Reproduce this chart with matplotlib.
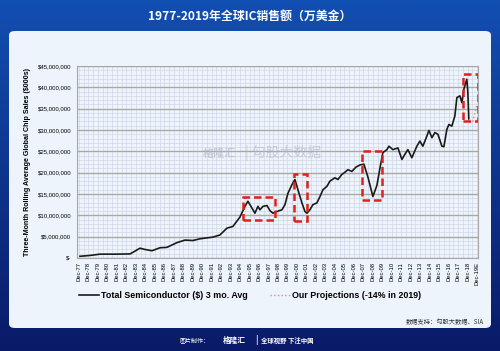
import numpy as np
import matplotlib.pyplot as plt
from matplotlib.patches import FancyBboxPatch, Rectangle
from matplotlib.ticker import MultipleLocator, FuncFormatter

plt.rcParams['font.family'] = ['Liberation Sans', 'Noto Sans CJK SC', 'DejaVu Sans']

# three-month rolling average sales, $000s
years = [1978.02, 1979.08, 1980.13, 1981.71, 1983.30, 1983.82, 1984.35, 1984.88,
         1985.62, 1986.46, 1987.20, 1988.25, 1989.10, 1989.94, 1990.68, 1992.05,
         1992.79, 1993.53, 1994.16, 1994.90, 1995.43, 1995.74, 1996.17, 1996.48,
         1996.80, 1997.01, 1997.33, 1997.75, 1998.07, 1998.38, 1998.80, 1999.33,
         1999.65, 1999.97, 2000.39, 2000.70, 2001.02, 2001.44, 2001.76, 2001.97,
         2002.28, 2002.60, 2003.02, 2003.34, 2003.66, 2004.08, 2004.39, 2004.92,
         2005.24, 2005.66, 2005.98, 2006.29, 2006.71, 2007.14, 2007.56, 2007.98,
         2008.40, 2008.93, 2009.35, 2009.67, 2009.98, 2010.41, 2010.62, 2011.04,
         2011.57, 2011.99, 2012.30, 2012.62, 2013.04, 2013.57, 2013.89, 2014.20,
         2014.63, 2014.84, 2015.16, 2015.47, 2015.79, 2016.21, 2016.42, 2016.74,
         2016.95, 2017.26, 2017.58, 2017.79, 2018.11, 2018.32, 2018.53, 2018.84,
         2018.95, 2019.05]
sales = [0.4, 0.6, 0.9, 0.9, 0.95, 1.6, 2.3, 2.0,
         1.7, 2.4, 2.5, 3.6, 4.2, 4.1, 4.5, 4.9,
         5.4, 7.0, 7.4, 9.6, 12.1, 13.3, 11.7, 10.5,
         12.1, 11.3, 12.1, 12.3, 11.1, 10.5, 10.9, 11.3,
         12.5, 15.2, 17.2, 18.4, 16.0, 12.9, 10.9, 10.5,
         11.3, 12.5, 12.9, 14.4, 16.0, 16.8, 18.0, 18.8,
         18.4, 19.6, 20.1, 20.7, 20.3, 21.3, 21.8, 22.0,
         19.0, 14.4, 17.0, 21.0, 24.7, 25.4, 26.2, 25.4,
         25.8, 23.1, 24.3, 25.4, 23.5, 26.2, 27.4, 26.2,
         28.6, 29.9, 28.2, 29.4, 29.0, 26.2, 26.1, 30.2,
         31.3, 30.9, 33.3, 37.6, 38.0, 36.4, 39.6, 41.9,
         38.8, 32.5]
sales = [v * 1e6 for v in sales]

proj_years = [2019.05, 2019.48, 2019.90]
proj_sales = [32.5e6, 32.1e6, 36.0e6]

# highlighted periods: (x0, x1, y0, y1)
boxes = [(1995.22, 1998.59, 9.0e6, 14.4e6),
         (2000.60, 2001.97, 8.7e6, 19.8e6),
         (2007.77, 2009.88, 13.7e6, 25.0e6),
         (2018.42, 2019.98, 32.0e6, 43.1e6)]

tick_years = list(range(1977, 2019))
tick_labels = ['Dec-%02d' % (y % 100) for y in tick_years] + ['Dec-19E']
tick_pos = [y + 11 / 12 for y in tick_years] + [2019 + 11 / 12]

fig = plt.figure(figsize=(5.0, 3.51), dpi=100)

# background gradient + light panel
bg = fig.add_axes([0, 0, 1, 1])
grad = np.linspace(0, 1, 256).reshape(-1, 1)
top = np.array([0x12, 0x4f, 0xb2]) / 255
bot = np.array([0x0a, 0x1a, 0x68]) / 255
img = top + (bot - top) * grad[:, :, None]
bg.imshow(img, aspect='auto', extent=[0, 1, 0, 1])
bg.add_patch(FancyBboxPatch((9 / 500, 1 - 328 / 351), 482 / 500, 297 / 351,
                            boxstyle='round,pad=0,rounding_size=0.012',
                            fc='#eef4fb', ec='none'))
bg.set_xlim(0, 1)
bg.set_ylim(0, 1)
bg.axis('off')

fig.text(0.5, 1 - 16 / 351, '1977-2019年全球IC销售额（万美金）', color='white',
         ha='center', va='center', fontsize=8.6, fontweight='bold',
         family=['Noto Sans CJK SC', 'DejaVu Sans'])

ax = fig.add_axes([77 / 500, 1 - 258 / 351, 401 / 500, 192 / 351])
ax.set_facecolor('#eef4fb')
ax.plot(years, sales, color='#1a1a1a', lw=1.2, label='Total Semiconductor ($) 3 mo. Avg', zorder=3)
ax.plot(proj_years, proj_sales, color='#e88a8a', lw=1.0, ls=':', label='Our Projections (-14% in 2019)', zorder=3)

for x0, x1, y0, y1 in boxes:
    ax.add_patch(Rectangle((x0, y0), x1 - x0, y1 - y0, fill=False, ec='#e0201c',
                           lw=1.8, ls=(0, (3, 1.6)), zorder=4))

ax.set_xlim(1977.706, 2020.02)
ax.set_ylim(0, 45e6)
ax.yaxis.set_major_locator(MultipleLocator(5e6))
ax.yaxis.set_minor_locator(MultipleLocator(1e6))
ax.yaxis.set_major_formatter(FuncFormatter(lambda v, p: '$-' if v == 0 else '${:,.0f}'.format(v)))
ax.set_xticks(tick_pos)
ax.set_xticklabels(tick_labels, rotation=90, fontsize=4.2)
ax.set_xticks([y + 5 / 12 for y in range(1978, 2020)], minor=True)
ax.tick_params(axis='y', labelsize=4.3, length=0, pad=4, which='both')
ax.tick_params(axis='x', length=0, pad=3, which='both')
ax.grid(axis='y', which='major', color='#a8a8a8', lw=1.0, zorder=1)
ax.grid(axis='y', which='minor', color='#cdd8e6', lw=0.5, zorder=1)
ax.grid(axis='x', which='both', color='#cdd8e6', lw=0.5, zorder=1)
for s in ax.spines.values():
    s.set_color('#a8a8a8')
    s.set_linewidth(0.8)

ax.set_ylabel('Three-Month Rolling Average Global Chip Sales ($000s)', fontsize=5.1,
              fontweight='bold', labelpad=5)

# watermark
fig.text(0.405, 1 - 153 / 351, '格隆汇', color='#b0b6c0', alpha=0.6, fontsize=8,
         ha='left', va='center', fontweight='bold', family=['Noto Sans CJK SC'])
fig.text(0.49, 1 - 153 / 351, '| 勾股大数据', color='#b0b6c0', alpha=0.6, fontsize=10,
         ha='left', va='center', family=['Noto Sans CJK SC'])

leg = fig.legend(loc='center', bbox_to_anchor=(0.5, 1 - 296 / 351), ncol=2, frameon=False,
                 prop={'size': 6.4, 'weight': 'bold'}, handlelength=2.2, columnspacing=2.6,
                 handletextpad=0.2)

fig.text(484 / 500, 1 - 322 / 351, '数据支持：勾股大数据、SIA', color='#333333', fontsize=4.5,
         ha='right', va='center', family=['Noto Sans CJK SC', 'DejaVu Sans'])

fig.text(0.42, 1 - 340 / 351, '图片制作：', color='white', fontsize=4.3, ha='right', va='center',
         family=['Noto Sans CJK SC'])
fig.text(0.445, 1 - 340 / 351, '格隆汇', color='white', fontsize=5.5, ha='left', va='center',
         fontweight='bold', family=['Noto Sans CJK SC'])
fig.text(0.51, 1 - 340 / 351, '|', color='white', fontsize=7, ha='left', va='center')
fig.text(0.522, 1 - 340 / 351, '全球视野 下注中国', color='white', fontsize=4.6, ha='left', va='center',
         fontweight='bold', family=['Noto Sans CJK SC'])

fig.savefig('out.png', dpi=100)
